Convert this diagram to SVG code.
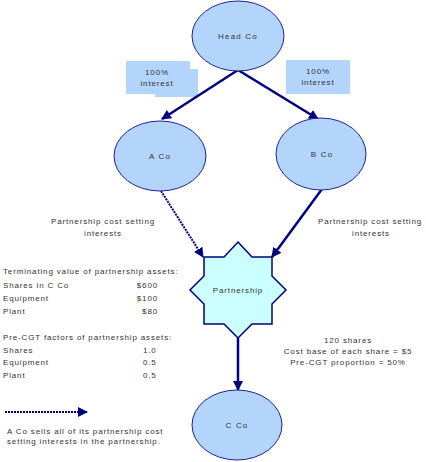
<svg xmlns="http://www.w3.org/2000/svg" width="426" height="462" viewBox="0 0 426 462">
<defs>
<marker id="ah" viewBox="0 0 10 10" refX="9" refY="5" markerWidth="4" markerHeight="4" orient="auto" markerUnits="strokeWidth">
<path d="M0,0 L10,5 L0,10 z" fill="#00007f"/>
</marker>
<marker id="ahd" viewBox="0 0 10 10" refX="9" refY="5" markerWidth="5" markerHeight="5" orient="auto" markerUnits="strokeWidth">
<path d="M0,0 L10,5 L0,10 z" fill="#00007f"/>
</marker>
</defs>
<style>
.node{fill:#b3d5fb;stroke:#1f1f9a;stroke-width:1}
.box{fill:#b3d5fb;stroke:none}
.star{fill:#ccffff;stroke:#00007f;stroke-width:1.5}
.lbl{font-family:"Liberation Sans",Arial,sans-serif;font-size:8px;letter-spacing:1.2px;fill:#333;text-anchor:middle}
.t{font-family:"Liberation Sans",Arial,sans-serif;font-size:8px;letter-spacing:0.85px;fill:#333}
.m{text-anchor:middle}
.r{text-anchor:end}
.solid{stroke:#00007f;stroke-width:2.5;fill:none;marker-end:url(#ah)}
.dot{stroke:#00007f;stroke-width:2;stroke-dasharray:2 1;fill:none;marker-end:url(#ahd)}
</style>
<rect width="426" height="462" fill="#fff"/>
<g id="box-left">
<rect class="box" x="126" y="61" width="64" height="33"/>
<rect class="box" x="155" y="69" width="43" height="28"/>
<text class="t m" x="157" y="75">100%</text>
<text class="t m" x="157" y="86">interest</text>
</g>
<g id="box-right">
<rect class="box" x="286" y="60" width="64" height="34"/>
<text class="t m" x="318" y="74">100%</text>
<text class="t m" x="318" y="85">interest</text>
</g>
<g id="connectors">
<line class="solid" x1="238" y1="70" x2="162" y2="119"/>
<line class="solid" x1="238" y1="70" x2="318" y2="119"/>
<line class="dot" x1="161" y1="191" x2="203" y2="257"/>
<line class="solid" x1="322" y1="189" x2="272" y2="257"/>
<line class="solid" x1="238" y1="338" x2="238" y2="390"/>
</g>
<g id="head-co">
<ellipse class="node" cx="238" cy="36" rx="46" ry="35"/>
<text class="lbl" x="238" y="39">Head Co</text>
</g>
<g id="a-co">
<ellipse class="node" cx="160" cy="156" rx="46" ry="35"/>
<text class="lbl" x="160" y="159">A Co</text>
</g>
<g id="b-co">
<ellipse class="node" cx="321" cy="154" rx="45" ry="36"/>
<text class="lbl" x="322" y="157">B Co</text>
</g>
<g id="partnership">
<polygon class="star" points="238,242 252,257 272,257 272,276 286,290 272,304 272,324 252,324 238,338 224,324 204,324 204,304 190,290 204,276 204,257 224,257"/>
<text class="t m" x="238" y="293">Partnership</text>
</g>
<g id="c-co">
<ellipse class="node" cx="237" cy="425" rx="45" ry="35"/>
<text class="lbl" x="237" y="428">C Co</text>
</g>
<g id="notes">
<text class="t m" x="103" y="224">Partnership cost setting</text>
<text class="t m" x="103" y="236">interests</text>
<text class="t m" x="370" y="224">Partnership cost setting</text>
<text class="t m" x="371" y="236">interests</text>
<text class="t" x="3" y="274">Terminating value of partnership assets:</text>
<text class="t" x="3" y="288">Shares in C Co</text>
<text class="t r" x="158" y="288">$600</text>
<text class="t" x="3" y="301">Equipment</text>
<text class="t r" x="158" y="301">$100</text>
<text class="t" x="3" y="314">Plant</text>
<text class="t r" x="158" y="314">$80</text>
<text class="t" x="3" y="340">Pre-CGT factors of partnership assets:</text>
<text class="t" x="3" y="353">Shares</text>
<text class="t" x="143" y="353">1.0</text>
<text class="t" x="3" y="365">Equipment</text>
<text class="t" x="143" y="365">0.5</text>
<text class="t" x="3" y="378">Plant</text>
<text class="t" x="143" y="378">0.5</text>
<text class="t m" x="348" y="343">120 shares</text>
<text class="t m" x="348" y="354">Cost base of each share = $5</text>
<text class="t m" x="348" y="365">Pre-CGT proportion = 50%</text>
</g>
<g id="legend">
<line class="dot" x1="5" y1="412" x2="87" y2="412"/>
<text class="t" x="7" y="434">A Co sells all of its partnership cost</text>
<text class="t" x="7" y="444">setting interests in the partnership.</text>
</g>
</svg>
